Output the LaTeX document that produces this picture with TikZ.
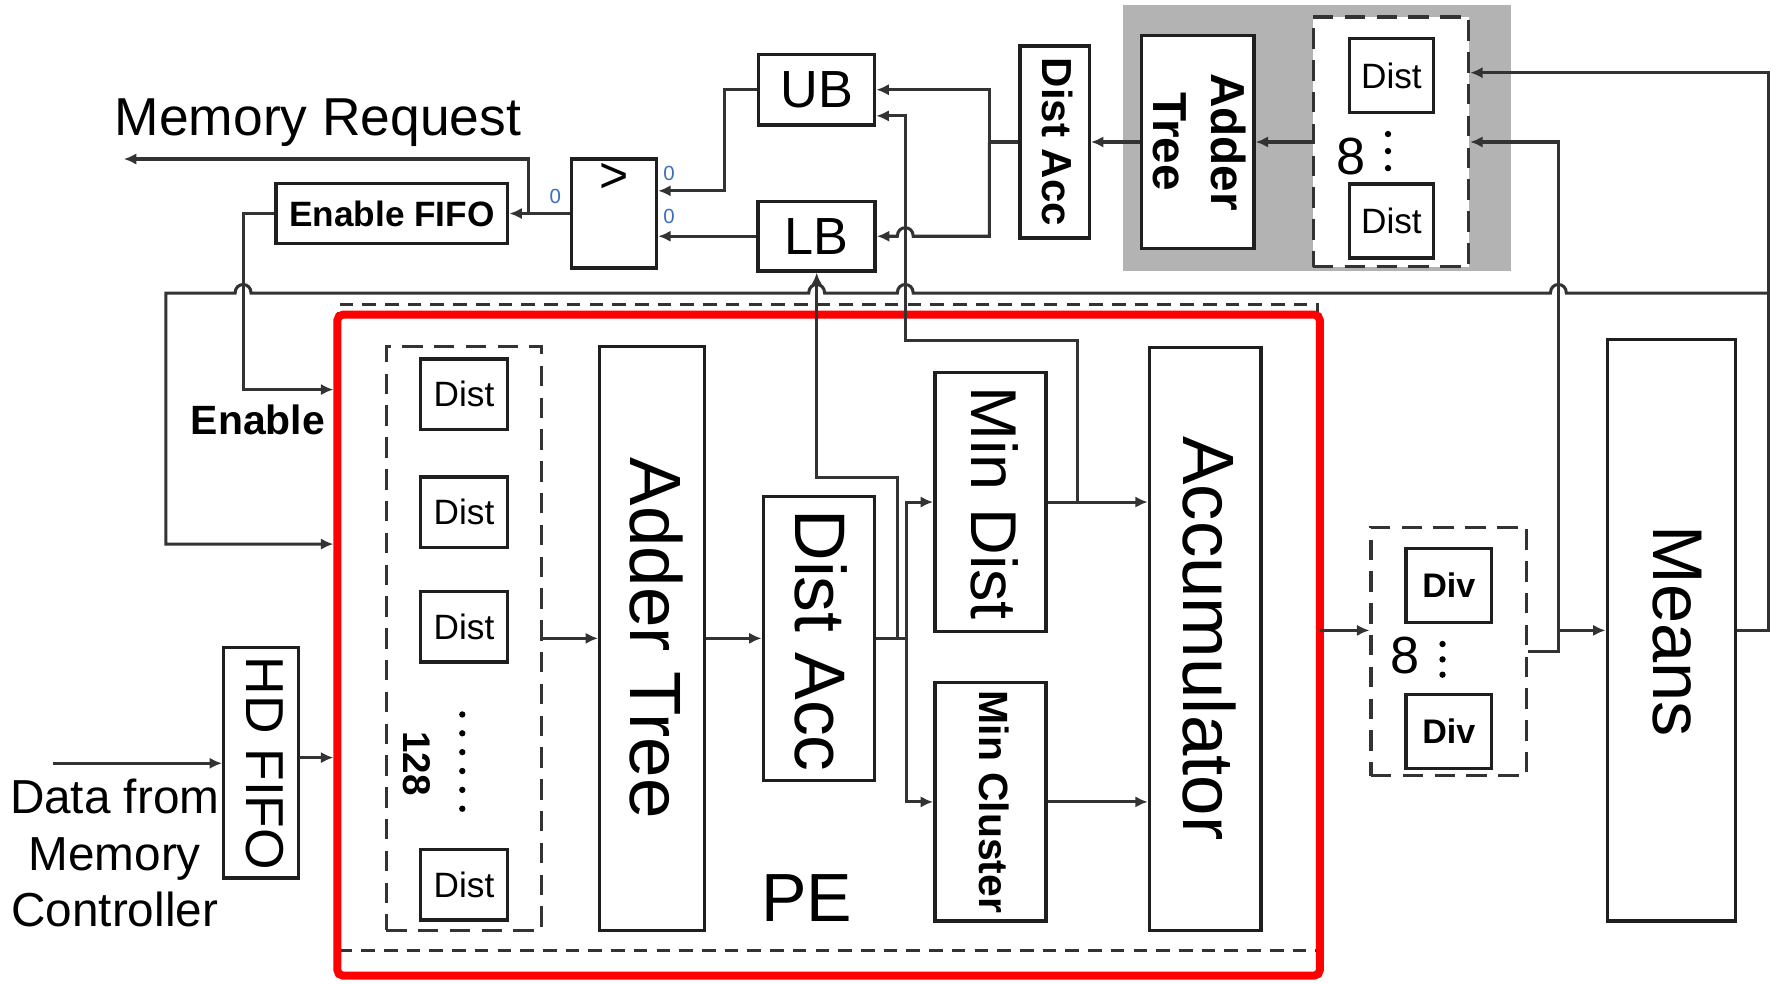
\documentclass[tikz,border=0pt]{standalone}
\usepackage{fontspec}
\setmainfont{Liberation Sans}
\usetikzlibrary{arrows.meta,calc}
\definecolor{zerocol}{RGB}{60,110,190}
\definecolor{pered}{RGB}{255,0,0}
\definecolor{bggray}{RGB}{179,179,179}
\newcommand{\myfs}[1]{\fontsize{#1}{#1}\selectfont}
\begin{document}
\begin{tikzpicture}[x=0.5pt,y=-0.5pt,
 box/.style={draw=black!88, line width=1.5pt, fill=white, inner sep=0pt},
 grp/.style={draw=black!80, line width=1.35pt, dash pattern=on 9pt off 5pt, inner sep=0pt},
 conn/.style={draw=black!80, line width=1.35pt},
 arr/.style={conn, -{Latex[length=5.5pt,width=5pt]}},
 lbl/.style={inner sep=0pt, outer sep=0pt},
 rlbl/.style={lbl, rotate=-90},
 dotn/.style={fill=black, circle, inner sep=0pt, minimum size=2.8pt},
]
\useasboundingbox (0,0) rectangle (1568,866);
% ---------- top part ----------
\node[fill=bggray, inner sep=0pt, minimum width=170.5pt, minimum height=117.5pt] (graybg) at (1159.5,121.5) {};
\node[box, minimum width=102pt, minimum height=26.5pt, font=\bfseries\myfs{15.5}] (enfifo) at (345,188) {Enable FIFO};
\node[box, minimum width=37.5pt, minimum height=48pt] (cmp) at (540.5,188) {};
\node[lbl, font=\myfs{22}] (gt) at (541,157) {>};
\node[box, minimum width=51pt, minimum height=31pt, font=\myfs{23}] (ub) at (719,79) {UB};
\node[box, minimum width=51.5pt, minimum height=30.5pt, font=\myfs{23}] (lb) at (719,208) {LB};
\node[box, minimum width=30.5pt, minimum height=84.5pt] (dacT) at (928.5,125) {};
\node[rlbl, font=\bfseries\myfs{18.5}] (dacTt) at (931,125) {Dist Acc};
\node[box, minimum width=49.5pt, minimum height=94pt] (adT) at (1054.5,125) {};
\node[rlbl, align=center, font=\bfseries\fontsize{21}{25.5}\selectfont] (adTt) at (1056,125) {Adder\\Tree};
\node[grp, fill=white, minimum width=68.5pt, minimum height=110pt] (dashT) at (1224.5,125) {};
\node[box, minimum width=37pt, minimum height=32.5pt, font=\myfs{15.5}] (dT1) at (1225,66.5) {Dist};
\node[box, minimum width=37pt, minimum height=32.5pt, font=\myfs{15.5}] (dT2) at (1225,194.5) {Dist};
\node[lbl, font=\myfs{23}] (eightT) at (1189,138) {8};
\node[dotn] (dTa) at (1222,118) {};
\node[dotn] (dTb) at (1222,133) {};
\node[dotn] (dTc) at (1222,148) {};
\node[lbl, text=zerocol, font=\myfs{9}] (z1) at (489,173) {0};
\node[lbl, text=zerocol, font=\myfs{9}] (z2) at (589,153) {0};
\node[lbl, text=zerocol, font=\myfs{9}] (z3) at (589,191) {0};
\node[lbl, anchor=base west, font=\myfs{23.5}] (mreq) at (101,119) {Memory Request};
% ---------- PE ----------
\node[grp, dash pattern=on 6pt off 4pt, minimum width=431pt, minimum height=284.5pt] (pedash) at (729,552.5) {};
\node[draw=pered, line width=3.5pt, rounded corners=2.5pt, inner sep=0pt, minimum width=432.5pt, minimum height=291pt] (pe) at (729.5,568) {};
\node[grp, minimum width=68.5pt, minimum height=257pt] (dgrp) at (408.5,562) {};
\node[box, minimum width=38.5pt, minimum height=31pt, font=\myfs{15.5}] (dP1) at (408.5,347) {Dist};
\node[box, minimum width=38.5pt, minimum height=31pt, font=\myfs{15.5}] (dP2) at (408.5,451) {Dist};
\node[box, minimum width=38.5pt, minimum height=31pt, font=\myfs{15.5}] (dP3) at (408.5,552) {Dist};
\node[box, minimum width=38.5pt, minimum height=31pt, font=\myfs{15.5}] (dP4) at (408.5,779) {Dist};
\node[rlbl, font=\bfseries\myfs{17}] (n128) at (367,672) {128};
\node[dotn] (pd1) at (407,629) {};
\node[dotn] (pd2) at (407,645.6) {};
\node[dotn] (pd3) at (407,662.2) {};
\node[dotn] (pd4) at (407,678.8) {};
\node[dotn] (pd5) at (407,695.4) {};
\node[dotn] (pd6) at (407,712) {};
\node[box, minimum width=46pt, minimum height=257pt] (adP) at (574,562) {};
\node[rlbl, font=\myfs{32}] (adPt) at (578,562) {Adder Tree};
\node[box, minimum width=49pt, minimum height=125pt] (dacP) at (721,562) {};
\node[rlbl, font=\myfs{31.5}] (dacPt) at (723,564) {Dist Acc};
\node[box, minimum width=49pt, minimum height=114pt] (mind) at (872,442) {};
\node[rlbl, font=\myfs{28.5}] (mindt) at (876,443) {Min Dist};
\node[box, minimum width=49pt, minimum height=105pt] (mincl) at (872,706) {};
\node[rlbl, font=\bfseries\myfs{18}] (minclt) at (875,706) {Min Cluster};
\node[box, minimum width=49pt, minimum height=256.5pt] (acc) at (1061,562.5) {};
\node[rlbl, font=\myfs{32}] (acct) at (1065,562) {Accumulator};
\node[lbl, font=\myfs{30}] (pet) at (710,791) {PE};
% ---------- left ----------
\node[box, minimum width=33pt, minimum height=101.5pt] (hd) at (230,671.5) {};
\node[rlbl, font=\myfs{23.5}] (hdt) at (233,672) {HD FIFO};
\node[lbl, align=center, font=\fontsize{21}{25}\selectfont] (data) at (101,751) {Data from\\Memory\\Controller};
\node[lbl, font=\bfseries\myfs{18}] (ent) at (227,370) {Enable};
% ---------- right ----------
\node[grp, minimum width=68.5pt, minimum height=109.5pt] (divg) at (1275.5,573.5) {};
\node[box, minimum width=37.5pt, minimum height=32.5pt, font=\bfseries\myfs{15}] (dv1) at (1275.5,515.5) {Div};
\node[box, minimum width=37.5pt, minimum height=32.5pt, font=\bfseries\myfs{15}] (dv2) at (1275.5,644) {Div};
\node[lbl, font=\myfs{23}] (eightD) at (1237,577) {8};
\node[dotn] (dDa) at (1270,567) {};
\node[dotn] (dDb) at (1270,580.5) {};
\node[dotn] (dDc) at (1270,594) {};
\node[box, minimum width=56.5pt, minimum height=256pt] (means) at (1471.5,555) {};
\node[rlbl, font=\myfs{31}] (meanst) at (1477,556) {Means};
% ---------- connectors ----------
\coordinate (mrj) at (465,188);
\coordinate (mrend) at (109,140);
\draw[arr] (cmp.west) -- (enfifo.east);
\draw[arr] (mrj) |- (mrend);
\coordinate (cmpA) at (600,168);
\coordinate (cmpB) at (600,208);
\draw[arr] (ub.west) -- (638,79) |- (cmpA -| cmp.east);
\draw[arr] (lb.west) -- (cmpB -| cmp.east);
\coordinate (dj) at (871,125);
\draw[conn] (dacT.west) -- (dj);
\draw[arr] (dj) |- (ub.east);
\draw[arr] (dj) -- (871,208) -- (804,208) .. controls (804,198) and (790,198) .. (790,208) -- (lb.east);
\draw[arr] (adT.west) -- (dacT.east);
\draw[arr] (dashT.west) -- (adT.east);
% means loop
\coordinate (mo) at (1557,555);
\coordinate (mtop) at (1557,64);
\draw[arr] (means.east) -- (mo) -- (mtop) -- (mtop -| dashT.east);
% bus
\coordinate (busR) at (1557,258);
\coordinate (busL) at (146,258);
\coordinate (peBus) at (146,479);
\draw[arr] (busR) -- (1379,258) .. controls (1379,248) and (1365,248) .. (1365,258)
  -- (804,258) .. controls (804,248) and (790,248) .. (790,258)
  -- (726,258) .. controls (726,248) and (712,248) .. (712,258)
  -- (221,258) .. controls (221,248) and (207,248) .. (207,258)
  -- (busL) -- (peBus) -- (peBus -| pe.west);
% enable
\coordinate (enc) at (214,343);
\draw[arr] (enfifo.west) -- (214,188) -- (enc) -- (enc -| pe.west);
% data
\coordinate (din) at (47,672);
\draw[arr] (din) -- (din -| hd.west);
\coordinate (hdo) at (263,667);
\draw[arr] (hdo) -- (hdo -| pe.west);
% PE to div
\coordinate (peo) at (1162,555);
\draw[arr] (peo) -- (peo -| divg.west);
\coordinate (dvj) at (1372,573.5);
\coordinate (dvm) at (1372,555);
\coordinate (dvt) at (1372,125);
\draw[conn] (divg.east) -- (dvj) -- (dvm);
\draw[arr] (dvm) -- (means.west);
\draw[arr] (dvm) -- (dvt) -- (dashT.east);
% PE internal
\draw[arr] (dgrp.east) -- (adP.west);
\draw[arr] (adP.east) -- (dacP.west);
\coordinate (jb) at (790,562);
\coordinate (jf) at (798,562);
\draw[conn] (dacP.east) -- (jf);
\draw[arr] (jb) -- (790,420) -| (lb.south);
\draw[arr] (jf) |- (mind.west);
\draw[arr] (jf) |- (mincl.west);
\coordinate (mj) at (949,442);
\coordinate (vtop) at (797,102);
\draw[arr] (mind.east) -- (mind.east -| acc.west);
\draw[arr] (mj) -- (949,300) -| (vtop) -- (vtop -| ub.east);
\draw[arr] (mincl.east) -- (mincl.east -| acc.west);
\end{tikzpicture}
\end{document}
